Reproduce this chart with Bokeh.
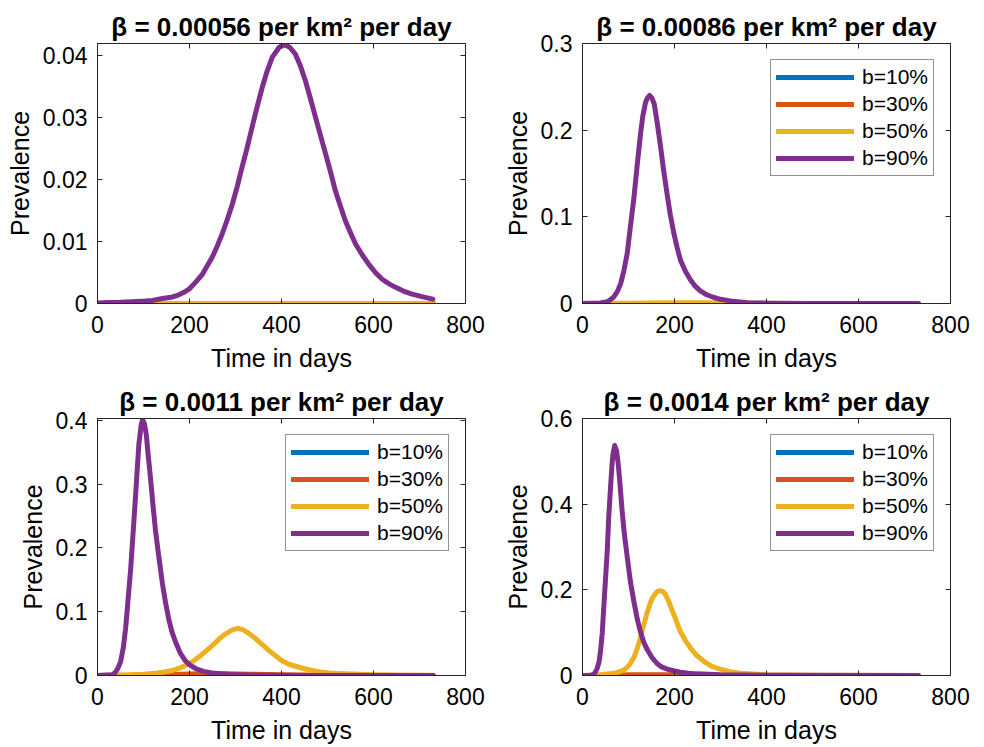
from bokeh.plotting import figure
from bokeh.layouts import column, row
from bokeh.models import Range1d, LinearAxis, FixedTicker, Legend, LegendItem
from bokeh.embed import file_html
from bokeh.resources import INLINE

FONT = "Liberation Sans"
AX = "#262626"

# ---------------- data ----------------
SERIES_LABELS = ["b=10%", "b=30%", "b=50%", "b=90%"]
SERIES_COLORS = ["#0072BD", "#D95319", "#EDB120", "#7E2F8E"]

X_TICKS = [0, 200, 400, 600, 800]
X_TICK_LABELS = ["0", "200", "400", "600", "800"]
X_LABEL = "Time in days"
Y_LABEL = "Prevalence"

TITLES = [
    "β = 0.00056 per km² per day",
    "β = 0.00086 per km² per day",
    "β = 0.0011 per km² per day",
    "β = 0.0014 per km² per day",
]

# Panel 1 (beta = 0.00056)
P1_T_B10 = [0, 730]
P1_B10 = [0, 0]
P1_T_B30 = [0, 730]
P1_B30 = [0, 0]
P1_T_B50 = [0, 730]
P1_B50 = [0, 0]
P1_T_B90 = [0, 25, 50, 75, 104, 120, 141, 160, 177, 188, 199, 213, 228, 238, 249, 260, 271,
            282, 293, 304, 314, 325, 336, 347, 358, 369, 380, 395, 406, 418, 430, 441, 452,
            463, 474, 485, 496, 507, 517, 528, 539, 550, 561, 575, 590, 604, 619, 633, 648,
            665, 684, 705, 729]
P1_B90 = [0.0001, 0.00015, 0.0002, 0.0003, 0.0004, 0.0005, 0.0008, 0.0010, 0.0014, 0.0018,
          0.0023, 0.0034, 0.0047, 0.0060, 0.0074, 0.0092, 0.0112, 0.0135, 0.0160, 0.0189,
          0.0219, 0.0250, 0.0284, 0.0317, 0.0348, 0.0375, 0.0397, 0.0413, 0.0417, 0.0413,
          0.0402, 0.0383, 0.0359, 0.0330, 0.0300, 0.0270, 0.0241, 0.0211, 0.0182, 0.0157,
          0.0133, 0.0114, 0.0096, 0.0079, 0.0063, 0.0050, 0.0039, 0.0032, 0.0026, 0.0020,
          0.0015, 0.0011, 0.0007]
P1_Y_END = 0.0419
P1_Y_TICKS = [0, 0.01, 0.02, 0.03, 0.04]
P1_Y_TICK_LABELS = ["0", "0.01", "0.02", "0.03", "0.04"]

# Panel 2 (beta = 0.00086)
P2_T_B10 = [0, 730]
P2_B10 = [0, 0]
P2_T_B30 = [0, 730]
P2_B30 = [0, 0]
P2_T_B50 = [0, 100, 200, 300, 400, 500, 730]
P2_B50 = [0, 0.0003, 0.0008, 0.0008, 0.0004, 0.0001, 0]
P2_T_B90 = [0, 39, 54, 61, 68, 76, 83, 90, 97, 104, 112, 119, 126, 131, 137, 141, 146, 151,
            156, 162, 169, 176, 184, 191, 199, 206, 213, 224, 235, 245, 256, 270, 286, 300,
            322, 358, 400, 500, 600, 730]
P2_B90 = [0, 0.0005, 0.002, 0.0045, 0.0077, 0.014, 0.023, 0.038, 0.057, 0.088, 0.123, 0.160,
          0.195, 0.216, 0.232, 0.237, 0.240, 0.237, 0.230, 0.210, 0.184, 0.155, 0.126, 0.102,
          0.080, 0.064, 0.050, 0.037, 0.027, 0.020, 0.0146, 0.0101, 0.0069, 0.0048, 0.003,
          0.001, 0.0004, 0.0001, 0, 0]
P2_Y_END = 0.3
P2_Y_TICKS = [0, 0.1, 0.2, 0.3]
P2_Y_TICK_LABELS = ["0", "0.1", "0.2", "0.3"]

# Panel 3 (beta = 0.0011)
P3_T_B10 = [0, 730]
P3_B10 = [0, 0]
P3_T_B30 = [0, 100, 150, 200, 240, 280, 330, 400, 500, 600, 730]
P3_B30 = [0, 0.0003, 0.0012, 0.0025, 0.003, 0.0028, 0.002, 0.0012, 0.0005, 0.0002, 0.0001]
P3_T_B50 = [0, 68, 100, 126, 145, 162, 176, 191, 202, 213, 224, 235, 246, 257, 267, 278, 292,
            304, 316, 329, 340, 351, 362, 373, 387, 401, 415, 430, 448, 466, 485, 503, 520,
            539, 600, 650, 730]
P3_B50 = [0, 0.001, 0.002, 0.0036, 0.0055, 0.0078, 0.011, 0.0155, 0.020, 0.025, 0.031, 0.038,
          0.045, 0.052, 0.059, 0.065, 0.071, 0.074, 0.072, 0.066, 0.060, 0.053, 0.046, 0.039,
          0.031, 0.023, 0.018, 0.0145, 0.011, 0.0078, 0.0056, 0.004, 0.0032, 0.0026, 0.001,
          0.0005, 0.0002]
P3_T_B90 = [0, 32, 39, 44, 50, 56, 61, 66, 72, 78, 83, 87, 90, 95, 98, 102, 106, 110, 115,
            120, 126, 133, 141, 148, 155, 162, 170, 180, 191, 202, 213, 230, 249, 286, 350,
            450, 730]
P3_B90 = [0, 0.001, 0.005, 0.011, 0.021, 0.043, 0.073, 0.115, 0.166, 0.230, 0.285, 0.330,
          0.363, 0.393, 0.401, 0.395, 0.378, 0.347, 0.311, 0.272, 0.228, 0.188, 0.145, 0.114,
          0.088, 0.068, 0.052, 0.035, 0.023, 0.016, 0.011, 0.0065, 0.004, 0.0015, 0.0005,
          0.0001, 0]
P3_Y_END = 0.403
P3_Y_TICKS = [0, 0.1, 0.2, 0.3, 0.4]
P3_Y_TICK_LABELS = ["0", "0.1", "0.2", "0.3", "0.4"]

# Panel 4 (beta = 0.0014)
P4_T_B10 = [0, 730]
P4_B10 = [0, 0]
P4_T_B30 = [0, 50, 100, 150, 200, 250, 300, 730]
P4_B30 = [0, 0.0005, 0.0015, 0.002, 0.0015, 0.0008, 0.0003, 0]
P4_T_B50 = [0, 39, 68, 80, 90, 97, 104, 112, 119, 126, 133, 140, 148, 153, 159, 164, 170,
            175, 180, 187, 195, 204, 213, 224, 235, 249, 264, 280, 300, 320, 344, 370, 400,
            500, 730]
P4_B50 = [0, 0.0015, 0.005, 0.0085, 0.013, 0.019, 0.028, 0.043, 0.063, 0.089, 0.117, 0.145,
          0.171, 0.183, 0.192, 0.197, 0.198, 0.196, 0.190, 0.174, 0.152, 0.127, 0.102, 0.081,
          0.064, 0.046, 0.033, 0.022, 0.0146, 0.009, 0.0054, 0.0035, 0.002, 0.0007, 0]
P4_T_B90 = [0, 17, 21, 25, 28, 32, 36, 39, 43, 46, 50, 54, 57, 61, 64, 66, 70, 74, 77, 79,
            82, 86, 91, 97, 104, 112, 119, 126, 133, 141, 151, 162, 172, 184, 198, 213, 230,
            249, 300, 400, 730]
P4_B90 = [0, 0.0005, 0.0015, 0.004, 0.008, 0.017, 0.032, 0.055, 0.100, 0.155, 0.225, 0.295,
          0.370, 0.440, 0.490, 0.515, 0.537, 0.525, 0.500, 0.478, 0.440, 0.386, 0.330, 0.279,
          0.220, 0.171, 0.132, 0.102, 0.078, 0.060, 0.042, 0.028, 0.020, 0.015, 0.011, 0.0077,
          0.0052, 0.0038, 0.0015, 0.0003, 0]
P4_Y_END = 0.6
P4_Y_TICKS = [0, 0.2, 0.4, 0.6]
P4_Y_TICK_LABELS = ["0", "0.2", "0.4", "0.6"]


# ---------------- helpers ----------------
def style_axis(ax, ticks, labels, standoff):
    ax.ticker = FixedTicker(ticks=ticks)
    ax.major_label_overrides = {tk: lb for tk, lb in zip(ticks, labels)}
    ax.major_tick_in = 5
    ax.major_tick_out = 0
    ax.minor_tick_line_color = None
    ax.axis_line_color = AX
    ax.major_tick_line_color = AX
    ax.major_label_text_font = FONT
    ax.major_label_text_font_size = "23px"
    ax.major_label_text_color = "black"
    ax.major_label_standoff = standoff
    ax.axis_label_text_font = FONT
    ax.axis_label_text_font_size = "25px"
    ax.axis_label_text_font_style = "normal"
    ax.axis_label_text_color = "black"


def mirror_axis(ticks):
    return LinearAxis(ticker=FixedTicker(ticks=ticks), major_label_text_font_size="0px",
                      major_label_text_color=None, major_label_standoff=0,
                      major_tick_in=5, major_tick_out=0, minor_tick_line_color=None,
                      axis_line_color=AX, major_tick_line_color=AX)


def make_panel(title, curves, y_end, y_ticks, y_tick_labels, show_legend,
               w, h, bl, br, bt, bb):
    p = figure(width=w, height=h, x_range=Range1d(0, 800), y_range=Range1d(0, y_end),
               output_backend="svg", toolbar_location=None,
               min_border_left=bl, min_border_right=br, min_border_top=bt,
               min_border_bottom=bb, background_fill_color="white",
               border_fill_color="white")
    p.outline_line_color = AX
    p.xgrid.visible = False
    p.ygrid.visible = False

    p.title.text = title
    p.title.align = "center"
    p.title.text_font = FONT
    p.title.text_font_size = "26px"
    p.title.text_font_style = "bold"
    p.title.text_color = "black"
    p.title.standoff = 3

    style_axis(p.xaxis[0], X_TICKS, X_TICK_LABELS, 12)
    style_axis(p.yaxis[0], y_ticks, y_tick_labels, 10)
    p.xaxis[0].axis_label = X_LABEL
    p.xaxis[0].axis_label_standoff = 8
    p.yaxis[0].axis_label = Y_LABEL
    p.yaxis[0].axis_label_standoff = 6

    p.add_layout(mirror_axis(X_TICKS), "above")
    p.add_layout(mirror_axis(y_ticks), "right")

    rends = []
    for (t, v), color in zip(curves, SERIES_COLORS):
        r = p.line(t, v, line_color=color, line_width=5, line_join="round",
                   line_cap="round")
        rends.append(r)

    if show_legend:
        lg = Legend(items=[LegendItem(label=lab, renderers=[r])
                           for lab, r in zip(SERIES_LABELS, rends)],
                    location="top_right", margin=16, padding=5, spacing=3,
                    glyph_width=78, glyph_height=20, label_height=20,
                    label_standoff=8, label_text_font=FONT,
                    label_text_font_size="21px", label_text_color="black",
                    border_line_color=AX, border_line_width=1,
                    background_fill_color="white", background_fill_alpha=1)
        p.add_layout(lg)
    return p


p1 = make_panel(TITLES[0],
                [(P1_T_B10, P1_B10), (P1_T_B30, P1_B30), (P1_T_B50, P1_B50), (P1_T_B90, P1_B90)],
                P1_Y_END, P1_Y_TICKS, P1_Y_TICK_LABELS, False,
                490, 380, 97, 25, 43, 77)
p2 = make_panel(TITLES[1],
                [(P2_T_B10, P2_B10), (P2_T_B30, P2_B30), (P2_T_B50, P2_B50), (P2_T_B90, P2_B90)],
                P2_Y_END, P2_Y_TICKS, P2_Y_TICK_LABELS, True,
                493, 380, 92, 33, 43, 77)
p3 = make_panel(TITLES[2],
                [(P3_T_B10, P3_B10), (P3_T_B30, P3_B30), (P3_T_B50, P3_B50), (P3_T_B90, P3_B90)],
                P3_Y_END, P3_Y_TICKS, P3_Y_TICK_LABELS, True,
                490, 366, 97, 25, 38, 69)
p4 = make_panel(TITLES[3],
                [(P4_T_B10, P4_B10), (P4_T_B30, P4_B30), (P4_T_B50, P4_B50), (P4_T_B90, P4_B90)],
                P4_Y_END, P4_Y_TICKS, P4_Y_TICK_LABELS, True,
                493, 366, 92, 33, 38, 69)

layout = column(row(p1, p2), row(p3, p4))

with open("out.html", "w") as f:
    f.write(file_html(layout, INLINE))
